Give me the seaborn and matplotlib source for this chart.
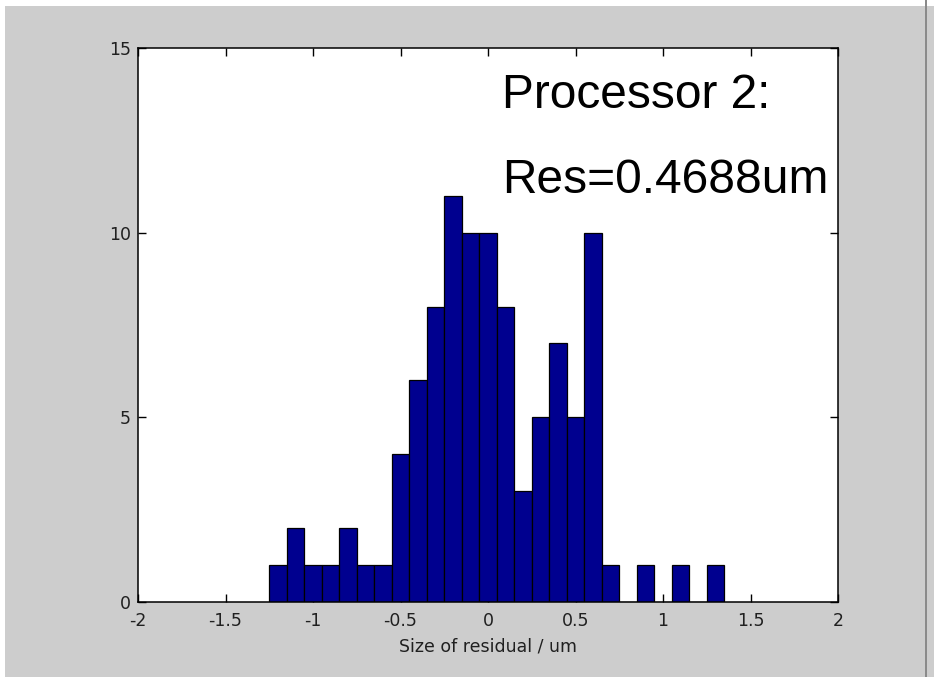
import numpy as np
import pandas as pd
import matplotlib
matplotlib.use("Agg")
import matplotlib.pyplot as plt
from matplotlib.patches import Rectangle
import seaborn as sns

# donnees (histogramme des residus, pas de 0.1)
bin_centers = [-1.2, -1.1, -1.0, -0.9, -0.8, -0.7, -0.6, -0.5, -0.4, -0.3,
               -0.2, -0.1, 0.0, 0.1, 0.2, 0.3, 0.4, 0.5, 0.6, 0.7,
               0.8, 0.9, 1.0, 1.1, 1.2, 1.3]
counts = [1, 2, 1, 1, 2, 1, 1, 4, 6, 8,
          11, 10, 10, 8, 3, 5, 7, 5, 10, 1,
          0, 1, 0, 1, 0, 1]
x_ticks = [-2, -1.5, -1, -0.5, 0, 0.5, 1, 1.5, 2]
x_labels = ["-2", "-1.5", "-1", "-0.5", "0", "0.5", "1", "1.5", "2"]
y_ticks = [0, 5, 10, 15]
y_labels = ["0", "5", "10", "15"]
annot_lines = ["Processor 2:", "Res=0.4688um"]

data = pd.DataFrame({"residual": bin_centers, "n": counts})
centers = np.array(bin_centers)
edges = np.append(centers - 0.05, centers[-1] + 0.05).tolist()

sns.set_style("ticks")
plt.rcParams["font.family"] = ["DejaVu Sans"]

fig = plt.figure(figsize=(9.34, 6.77), dpi=100)
fig.patch.set_facecolor("#cdcdcd")
ax = fig.add_axes([138 / 934, 1 - 602 / 677, 700 / 934, 554 / 677])
ax.set_facecolor("white")

sns.histplot(data=data, x="residual", weights="n", bins=edges,
             color="#00008f", edgecolor="black", linewidth=0.9,
             alpha=1, ax=ax)

ax.set_xlim(-2, 2)
ax.set_ylim(0, 15)
ax.set_xticks(x_ticks)
ax.set_xticklabels(x_labels)
ax.set_yticks(y_ticks)
ax.set_yticklabels(y_labels)
ax.set_ylabel("")
ax.set_xlabel("Size of residual / um", fontsize=12.5, color="#202020", labelpad=5)

ax.tick_params(direction="in", top=True, right=True, length=5.5, width=1,
               colors="black", labelcolor="#202020", labelsize=12.5)
ax.tick_params(axis="x", pad=7.5)
ax.tick_params(axis="y", pad=5)
for s in ax.spines.values():
    s.set_visible(True)
    s.set_color("black")
    s.set_linewidth(1.1)

# texte d'annotation
ax.text(0.08, 13.38, annot_lines[0], fontsize=34.5, family="Liberation Sans",
        va="baseline", ha="left", color="black")
ax.text(0.08, 11.07, annot_lines[1], fontsize=34.5, family="Liberation Sans",
        va="baseline", ha="left", color="black")

# bordures de la fenetre
fig.patches.append(Rectangle((0, 0), 5 / 934, 1, transform=fig.transFigure,
                             facecolor="white", edgecolor="none", zorder=-1))
fig.patches.append(Rectangle((0, 1 - 6 / 677), 1, 6 / 677, transform=fig.transFigure,
                             facecolor="white", edgecolor="none", zorder=-1))
fig.patches.append(Rectangle((925 / 934, 0), 2 / 934, 1, transform=fig.transFigure,
                             facecolor="#8a8a8a", edgecolor="none", zorder=-1))

fig.savefig("out.png", dpi=100, facecolor=fig.get_facecolor())
